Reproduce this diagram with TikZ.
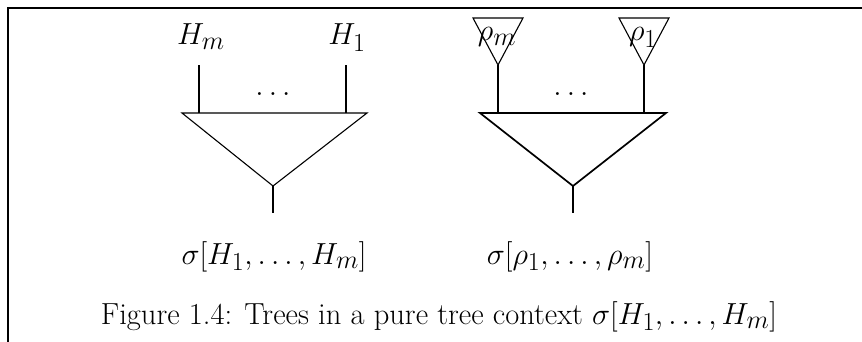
\RequirePackage{fix-cm}
\documentclass[tikz,border=0pt]{standalone}
\DeclareMathSizes{30.5}{30.5}{26}{21}
\begin{document}
\begin{tikzpicture}[x=1pt,y=-1pt,
  thin tree/.style={line width=1.1pt},
  thick tree/.style={line width=1.7pt},
  lbl/.style={inner sep=0pt,font=\fontsize{30.5}{36}\selectfont},
  frameline/.style={line width=2.6pt}]
\useasboundingbox (0,0) rectangle (862,342);
% frame
\draw[frameline] (8,342) -- (8,8) -- (862,8);
% left tree
\coordinate (la) at (182,113);
\coordinate (lb) at (367,113);
\coordinate (lapex) at (273,186);
\coordinate (lroot) at (273,213);
\coordinate (lm) at (199,113);
\coordinate (l1) at (346,113);
\coordinate (lmt) at (199,65);
\coordinate (l1t) at (346,65);
\draw[thin tree] (la) -- (lb) -- (lapex) -- cycle;
\draw[thin tree] (lapex) -- (lroot);
\draw[thin tree] (lm) -- (lmt);
\draw[thin tree] (l1) -- (l1t);
\node[lbl,anchor=base] (Hm) at (201,45) {$H_m$};
\node[lbl,anchor=base] (H1) at (347,45) {$H_1$};
\node[lbl,anchor=base] (ldots) at (273,96) {$\ldots$};
\node[lbl,anchor=base] (lname) at (274,264) {$\sigma[H_1,\ldots,H_m]$};
% right tree
\coordinate (ra) at (480,113);
\coordinate (rb) at (666,113);
\coordinate (rapex) at (573,186);
\coordinate (rroot) at (573,213);
\coordinate (rm) at (498,113);
\coordinate (r1) at (644,113);
\coordinate (rmt) at (498,65);
\coordinate (r1t) at (644,65);
\draw[thick tree] (ra) -- (rb) -- (rapex) -- cycle;
\draw[thick tree] (rapex) -- (rroot);
\draw[thick tree] (rm) -- (rmt);
\draw[thick tree] (r1) -- (r1t);
\draw[thin tree] (473,18) -- (523,18) -- (rmt) -- cycle;
\draw[thin tree] (619,18) -- (669,18) -- (r1t) -- cycle;
\node[lbl,anchor=base] (rhom) at (497,41) {$\rho_m$};
\node[lbl,anchor=base] (rho1) at (643,41) {$\rho_1$};
\node[lbl,anchor=base] (rdots) at (571,96) {$\ldots$};
\node[lbl,anchor=base] (rname) at (570,264) {$\sigma[\rho_1,\ldots,\rho_m]$};
% caption
\node[lbl,anchor=base] (cap) at (439,324) {Figure 1.4: Trees in a pure tree context $\sigma[H_1,\ldots,H_m]$};
\end{tikzpicture}
\end{document}
